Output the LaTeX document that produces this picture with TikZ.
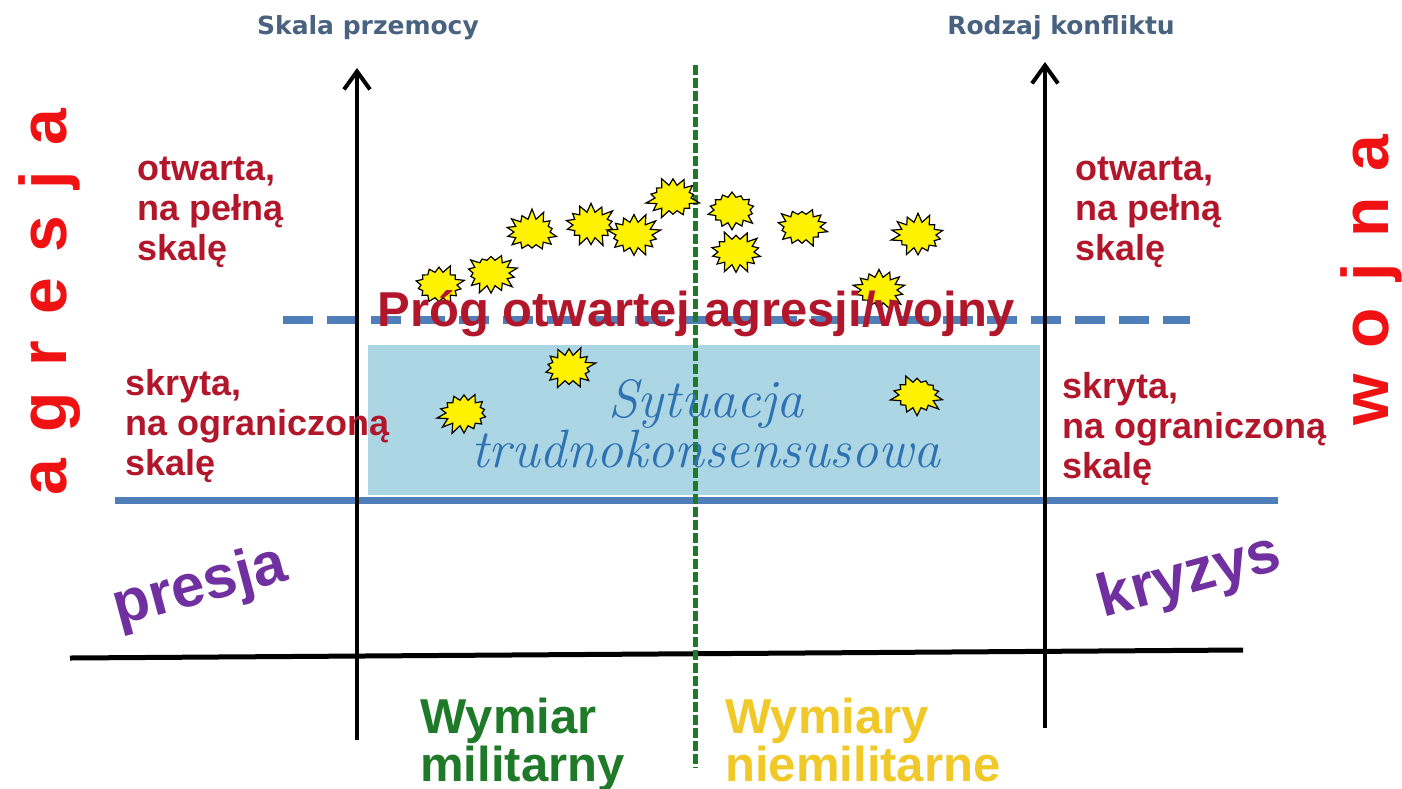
\documentclass[tikz,border=0pt]{standalone}
\usepackage{fontspec}
\newfontfamily\arialfont[BoldFont = {Liberation Sans Bold}]{Liberation Sans}
\newfontfamily\osfont{DejaVu Sans}
\newcommand\odstep{\kern 13pt}
\usetikzlibrary{shapes.symbols, arrows.meta}

\definecolor{ciemnoczerw}{RGB}{178,22,42}
\definecolor{czerw}{RGB}{240,18,18}
\definecolor{fiolet}{RGB}{112,48,160}
\definecolor{zielen}{RGB}{30,122,40}
\definecolor{zloty}{RGB}{240,200,40}
\definecolor{stal}{RGB}{79,126,184}
\definecolor{blekit}{RGB}{173,214,229}
\definecolor{szary}{RGB}{72,98,128}
\definecolor{skrypt}{RGB}{46,114,180}

\begin{document}
\begin{tikzpicture}[x = 0.5pt, y = -0.5pt,
    opis/.style = {font = \arialfont\bfseries\fontsize{18}{20}\selectfont, text = ciemnoczerw, align = left, anchor = north west, inner sep = 0pt},
    wymiar/.style = {font = \arialfont\bfseries\fontsize{24.5}{24}\selectfont, align = left, anchor = north west, inner sep = 0pt},
    pion/.style = {font = \arialfont\bfseries\fontsize{33}{33}\selectfont, text = czerw, rotate = 90, anchor = base, inner sep = 0pt},
    skos/.style = {font = \arialfont\bfseries\fontsize{30}{30}\selectfont, text = fiolet, rotate = 15},
    osopis/.style = {font = \osfont\bfseries\fontsize{12.5}{12.5}\selectfont, text = szary},
    os/.style = {line width = 2pt, -{Straight Barb[length = 9pt, width = 13pt]}},
    wybuch/.style = {starburst, starburst points = 14, starburst point height = 5pt, minimum width = 28pt, minimum height = 23pt, inner sep = 0pt, draw = black, fill = yellow, line width = 0.6pt}]
    \useasboundingbox (0,0) rectangle (1402,788);

    % pole sytuacji trudnokonsensusowej
    \fill[blekit] (368,345) rectangle (1040,495);

    % progi
    \coordinate (pl) at (115,500);
    \coordinate (pp) at (1278,500);
    \draw[stal, line width = 3.5pt] (pl) -- (pp);
    \coordinate (dl) at (283,320);
    \coordinate (dp) at (1190,320);
    \draw[stal, line width = 4pt, dash pattern = on 15pt off 7pt] (dl) -- (dp);

    % osie
    \coordinate (al) at (357,740);
    \coordinate (bl) at (357,68);
    \draw[os] (al) -- (bl);
    \coordinate (ar) at (1045,728);
    \coordinate (br) at (1045,62);
    \draw[os] (ar) -- (br);
    \coordinate (hl) at (70,658);
    \coordinate (hr) at (1243,650);
    \draw[line width = 2.5pt] (hl) -- (hr);
    \coordinate (gt) at (695,65);
    \coordinate (gb) at (695,768);
    \draw[zielen, line width = 2.5pt, dash pattern = on 5pt off 1.5pt] (gt) -- (gb);

    % wybuchy
    \foreach \p [count = \i, evaluate = \i as \s using int(17*\i+5)] in
        {(439,285), (491,273), (532,232), (591,225), (634,235), (673,198), (732,210),
         (736,252), (802,227), (918,235), (879,290), (569,368), (464,413), (917,395)}
        \node[wybuch, random starburst = \s] (w\i) at \p {};

    % teksty
    \node[osopis] (skala) at (368,28) {Skala przemocy};
    \node[osopis] (rodzaj) at (1061,28) {Rodzaj konfliktu};
    \node[font = \arialfont\bfseries\fontsize{24.5}{24.5}\selectfont, text = ciemnoczerw, inner sep = 0pt, anchor = base] (prog) at (696,326) {Próg otwartej agresji/wojny};
    \node[font = \itshape\fontsize{27}{24}\selectfont, text = skrypt, align = center] (syt) at (706,424) {Sytuacja\\trudnokonsensusowa};

    \node[opis] (otl) at (137,157) {otwarta,\\na pełną\\skalę};
    \node[opis] (skl) at (125,369) {skryta,\\na ograniczoną\\skalę};
    \node[opis] (otp) at (1075,157) {otwarta,\\na pełną\\skalę};
    \node[opis] (skp) at (1062,372) {skryta,\\na ograniczoną\\skalę};

    \node[pion] (agr) at (66,302) {a\odstep g\odstep r\odstep e\odstep s\odstep j\odstep a};
    \node[pion] (woj) at (1388,280) {w\odstep o\odstep j\odstep n\odstep a};
    \node[skos] (pre) at (200,588) {presja};
    \node[skos] (kry) at (1190,578) {kryzys};

    \node[wymiar, text = zielen] (mil) at (420,698) {Wymiar\\militarny};
    \node[wymiar, text = zloty] (nie) at (725,698) {Wymiary\\niemilitarne};
\end{tikzpicture}
\end{document}
